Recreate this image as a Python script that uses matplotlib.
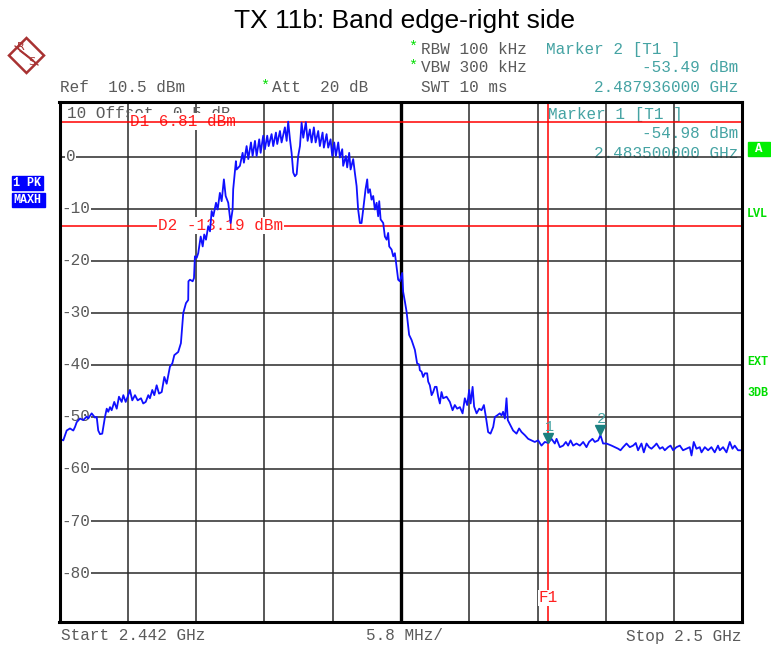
import matplotlib
matplotlib.use('Agg')
import matplotlib.pyplot as plt
from matplotlib.patches import Polygon, Rectangle
from matplotlib.transforms import offset_copy

# ---- trace data: frequency offset from start (MHz) and level (dBm) ----
offset_mhz = [
    0.04, 0.32, 0.61, 0.89, 1.17, 1.32, 1.46, 1.74, 2.02, 2.31, 2.44, 2.73, 3.01, 3.16, 3.29, 3.44, 3.63, 3.86, 4.01, 4.14,
    4.29, 4.43, 4.65, 4.86, 5.05, 5.28, 5.42, 5.62, 5.79, 5.98, 6.18, 6.41, 6.64, 6.92, 7.11, 7.32, 7.54, 7.68, 7.88, 8.05,
    8.25, 8.45, 8.68, 8.90, 9.10, 9.38, 9.58, 9.75, 10.08, 10.31, 10.51, 10.74, 10.93, 10.95, 11.08, 11.31, 11.42, 11.50, 11.65, 11.78,
    11.99, 12.16, 12.29, 12.44, 12.63, 12.78, 12.92, 13.06, 13.29, 13.43, 13.62, 13.77, 13.96, 14.11, 14.33, 14.53, 14.70, 14.75, 14.98, 15.04,
    15.32, 15.55, 15.66, 15.89, 16.03, 16.26, 16.40, 16.60, 16.74, 16.96, 17.08, 17.30, 17.44, 17.64, 17.76, 18.01, 18.15, 18.38, 18.49, 18.72,
    18.86, 19.14, 19.29, 19.42, 19.57, 19.71, 19.85, 19.99, 20.14, 20.27, 20.42, 20.56, 20.70, 20.92, 21.07, 21.26, 21.41, 21.60, 21.75, 21.97,
    22.11, 22.34, 22.45, 22.68, 22.82, 23.02, 23.16, 23.33, 23.47, 23.67, 23.81, 24.01, 24.09, 24.32, 24.43, 24.60, 24.72, 24.94, 25.08, 25.23,
    25.36, 25.51, 25.65, 25.79, 25.99, 26.13, 26.21, 26.36, 26.50, 26.64, 26.78, 26.93, 27.06, 27.15, 27.27, 27.49, 27.63, 27.78, 27.91, 28.00,
    28.20, 28.34, 28.48, 28.62, 28.76, 28.90, 29.10, 29.18, 29.33, 29.47, 29.69, 29.90, 30.18, 30.37, 30.54, 30.60, 30.75, 30.88, 31.03, 31.22,
    31.31, 31.45, 31.60, 31.73, 31.88, 32.02, 32.16, 32.30, 32.44, 32.58, 32.87, 33.15, 33.38, 33.57, 33.77, 34.00, 34.23, 34.42, 34.62, 34.79,
    34.91, 35.08, 35.21, 35.42, 35.64, 35.84, 36.04, 36.21, 36.40, 36.60, 36.83, 36.97, 37.16, 37.39, 37.54, 37.67, 37.82, 37.96, 38.07, 38.30,
    38.52, 38.81, 39.03, 39.24, 39.52, 39.80, 40.08, 40.36, 40.65, 40.93, 41.21, 41.50, 41.78, 42.06, 42.21, 42.49, 42.77, 43.00, 43.19, 43.40,
    43.62, 43.90, 44.19, 44.47, 44.75, 44.97, 45.26, 45.46, 45.74, 45.94, 46.16, 46.45, 46.88, 47.16, 47.44, 47.64, 47.86, 48.15, 48.43, 48.71,
    48.94, 49.13, 49.42, 49.62, 49.85, 50.07, 50.27, 50.55, 50.70, 50.98, 51.21, 51.40, 51.68, 51.89, 52.11, 52.39, 52.68, 52.95, 53.24, 53.52,
    53.67, 53.86, 54.09, 54.37, 54.52, 54.80, 55.08, 55.36, 55.64, 55.92, 56.07, 56.35, 56.64, 56.92, 57.15, 57.34, 57.62, 57.91, 58.00,
]
level_dbm = [
    -54.2, -54.5, -52.6, -52.2, -52.6, -51.9, -51.0, -50.3, -50.6, -49.9, -50.3, -49.3, -50.1, -50.0, -52.6, -53.3, -53.2, -50.0, -48.4, -49.0,
    -48.1, -48.7, -47.1, -48.4, -46.1, -47.1, -45.8, -47.1, -46.1, -44.8, -46.8, -45.8, -46.8, -46.4, -47.4, -47.1, -45.8, -46.4, -44.8, -45.8,
    -43.9, -45.5, -45.2, -42.3, -43.6, -40.3, -39.7, -38.1, -37.5, -35.8, -30.0, -28.1, -27.5, -23.9, -23.6, -23.9, -23.3, -19.1, -19.4, -18.5,
    -15.3, -17.2, -14.9, -15.9, -13.3, -14.3, -10.4, -11.4, -8.8, -10.1, -6.9, -8.5, -4.3, -7.5, -8.8, -12.7, -10.1, -6.2, -0.8, -2.4,
    -1.7, 0.8, -1.1, 2.1, -0.4, 2.8, 0.2, 3.1, 0.2, 3.4, 0.8, 4.1, 1.5, 4.1, 2.1, 4.4, 2.1, 4.7, 2.5, 5.0,
    2.8, 5.7, 3.1, 6.81, 3.4, 0.8, -3.0, -3.7, -3.3, 0.2, 2.1, 6.6, 3.7, 6.7, 3.1, 5.3, 2.8, 5.7, 2.8, 5.0,
    2.1, 4.7, 1.8, 4.4, 1.8, 3.4, 0.2, 2.8, 0.2, 2.8, -0.1, 1.5, -1.7, 0.2, -2.0, 0.8, -2.4, -0.4, -3.0, -5.6,
    -10.1, -12.7, -12.7, -10.1, -6.2, -4.3, -6.9, -6.2, -8.2, -7.5, -10.1, -8.8, -11.4, -8.5, -12.0, -12.7, -15.3, -15.9, -14.6, -17.2,
    -17.8, -19.1, -18.5, -21.0, -23.6, -23.9, -22.3, -25.9, -27.8, -29.7, -34.2, -35.2, -37.1, -39.7, -39.9, -41.0, -41.3, -42.3, -41.6, -41.6,
    -43.2, -43.9, -45.8, -45.2, -44.2, -44.2, -46.1, -47.4, -45.2, -46.4, -46.1, -47.1, -48.7, -47.7, -48.4, -48.1, -49.3, -46.4, -47.7, -44.8,
    -47.4, -44.2, -48.0, -49.3, -48.4, -48.7, -47.7, -50.0, -52.9, -53.2, -51.9, -50.0, -49.7, -49.3, -49.7, -49.0, -50.3, -46.4, -50.6, -51.6,
    -52.6, -53.2, -52.2, -52.9, -53.5, -54.2, -54.5, -54.8, -54.5, -55.5, -54.8, -54.98, -54.2, -55.1, -54.2, -55.8, -55.5, -54.8, -55.5, -54.5,
    -55.5, -55.1, -55.5, -54.8, -55.8, -54.8, -54.2, -54.8, -54.5, -53.49, -55.1, -55.1, -55.5, -55.8, -56.1, -56.4, -55.8, -55.1, -55.8, -55.5,
    -55.0, -56.4, -55.1, -56.8, -55.1, -55.8, -56.1, -55.5, -55.1, -56.1, -55.8, -56.4, -55.8, -55.5, -56.4, -55.8, -55.5, -56.4, -56.1, -55.8,
    -57.4, -54.8, -56.1, -55.8, -56.8, -55.8, -56.4, -55.8, -56.8, -55.5, -56.4, -55.8, -56.8, -54.8, -56.1, -55.5, -56.4, -56.4, -56.2,
]

start_mhz = 2442.0
span_mhz = 58.0
div_mhz = 5.8
ref_dbm = 10.5
ytick_vals = [0, -10, -20, -30, -40, -50, -60, -70, -80]

d1_dbm = 6.81
d2_dbm = -13.19
f1_mhz = 2483.5
marker_mhz = [2483.5, 2487.936]
marker_dbm = [-54.98, -53.49]
marker_names = ['1', '2']

freq_mhz = [start_mhz + o for o in offset_mhz]

# ---- colours / fonts ----
MONO = 'Liberation Mono'
GRAY = '#5a5a5a'
TEAL = '#45a3a3'
RED = '#ff2020'
GREEN = '#00dd00'
BLUE = '#0000ff'

W, H = 771, 648
fig = plt.figure(figsize=(W / 100, H / 100), dpi=100)
fig.patch.set_facecolor('white')


def fx(x):
    return x / W


def fy(y):
    return 1 - y / H


def ftext(x, y, s, color=GRAY, size=11.5, **kw):
    fig.text(fx(x), fy(y), s, color=color, family=MONO, fontsize=size, va='center', **kw)


ax = fig.add_axes([fx(59.5), fy(622.4), 683 / W, 520 / H])
ax.set_xlim(start_mhz, start_mhz + span_mhz)
ax.set_ylim(ref_dbm - 100, ref_dbm)

# graticule
gx = [start_mhz + i * div_mhz for i in range(1, 10)]
ax.set_xticks(gx)
ax.set_yticks(ytick_vals)
ax.tick_params(length=0, labelbottom=False, labelleft=False)
ax.grid(True, color='#2a2a2a', lw=1.1, zorder=1)
ax.set_axisbelow(True)
ax.axvline(start_mhz + 5 * div_mhz, color='black', lw=2.4, zorder=1.1)
for s in ax.spines.values():
    s.set_linewidth(2.2)
    s.set_zorder(5)

# level labels inside the graticule
for v in ytick_vals:
    xo = 0.55 if v == 0 else 0.2
    ax.text(start_mhz + xo, v, str(v), color=GRAY, family=MONO, fontsize=11.5,
            ha='left', va='center', zorder=1.3,
            bbox=dict(fc='white', ec='none', pad=0.3))
ax.text(start_mhz + 0.64, 8.44, '10 Offset  0.5 dB', color=GRAY, family=MONO,
        fontsize=11.5, ha='left', va='center', zorder=1.5)

# display lines
ax.text(start_mhz + 5.99, d1_dbm, 'D1 6.81 dBm', color=RED, family=MONO, fontsize=11.5,
        ha='left', va='center', zorder=2, bbox=dict(fc='white', ec='none', pad=0.5))
ax.axhline(d1_dbm, color='#ff0000', lw=1.1, zorder=2.5)
ax.axhline(d2_dbm, color='#ff0000', lw=1.1, zorder=2)
ax.text(start_mhz + 8.36, d2_dbm, 'D2 -13.19 dBm', color=RED, family=MONO, fontsize=11.5,
        ha='left', va='center', zorder=2.6, bbox=dict(fc='white', ec='none', pad=0.5))
ax.axvline(f1_mhz, color='#ff0000', lw=1.1, zorder=2.2)
ax.text(f1_mhz, -84.8, 'F1', color=RED, family=MONO, fontsize=11.5, ha='center',
        va='center', zorder=2.4, bbox=dict(fc='white', ec='none', pad=0.2))

# trace
ax.plot(freq_mhz, level_dbm, color='#1010ff', lw=1.3, zorder=3)

# markers
tri = offset_copy(ax.transData, fig=fig, x=0, y=5, units='dots')
ax.plot(marker_mhz, marker_dbm, 'v', ms=7, color='#1a8080', transform=tri, zorder=4)
for mx, my, name in zip(marker_mhz, marker_dbm, marker_names):
    ax.annotate(name, (mx, my), xytext=(1, 16), textcoords='offset pixels', ha='center',
                va='center', color=TEAL, family=MONO, fontsize=11, zorder=4)

# marker 1 info inside the screen, drawn under the graticule
for (x, y, s, ha) in [(547.7, 115, 'Marker 1 [T1 ]', 'left'),
                      (738, 134, '-54.98 dBm', 'right'),
                      (738, 153, '2.483500000 GHz', 'right')]:
    ax.text(fx(x), fy(y), s, transform=fig.transFigure, color=TEAL, family=MONO,
            fontsize=11.5, ha=ha, va='center', zorder=0.5)

# ---- header ----
fig.text(fx(405), fy(21), 'TX 11b: Band edge-right side', ha='center', va='center',
         fontsize=19, family='Liberation Sans', color='black')
ftext(413, 47, '*', color=GREEN, size=11, ha='center')
ftext(421, 49.5, 'RBW 100 kHz')
ftext(546.5, 49.5, 'Marker 2 [T1 ]', color=TEAL)
ftext(413, 66, '*', color=GREEN, size=11, ha='center')
ftext(421, 68, 'VBW 300 kHz')
ftext(738, 68, '-53.49 dBm', color=TEAL, ha='right')
ftext(421, 88, 'SWT 10 ms')
ftext(738, 88, '2.487936000 GHz', color=TEAL, ha='right')
ftext(59.5, 88, 'Ref  10.5 dBm')
ftext(265, 86, '*', color=GREEN, size=11, ha='center')
ftext(272.5, 88, 'Att  20 dB')

# bottom line
ftext(61, 636, 'Start 2.442 GHz')
ftext(404, 636, '5.8 MHz/', ha='center')
ftext(742, 636, 'Stop 2.5 GHz', ha='right')

# side annotations
for (x0, y0, w, h, s) in [(12, 176, 31, 14, '1 PK'), (12, 193, 33, 14, 'MAXH')]:
    fig.patches.append(Rectangle((fx(x0), fy(y0 + h)), w / W, h / H, transform=fig.transFigure,
                                 color=BLUE, zorder=1))
    fig.text(fx(x0 + 1), fy(y0 + h / 2), s, color='white', family=MONO, fontsize=8.5,
             fontweight='bold', va='center', ha='left', zorder=2)
fig.patches.append(Rectangle((fx(748), fy(156)), 22 / W, 14 / H, transform=fig.transFigure,
                             color='#00ee00', zorder=1))
fig.text(fx(759), fy(149), 'A', color='white', family=MONO, fontsize=9, fontweight='bold',
         ha='center', va='center', zorder=2)
for y, s in [(214, 'LVL'), (362, 'EXT'), (393, '3DB')]:
    ftext(747, y, s, color=GREEN, size=8.5, fontweight='bold')

# R&S logo
LOGO = '#a83232'
cx, cy, r = 26.5, 55.5, 17.5
fig.patches.append(Polygon([(fx(cx), fy(cy - r)), (fx(cx + r), fy(cy)), (fx(cx), fy(cy + r)),
                            (fx(cx - r), fy(cy))], closed=True, fill=False, ec=LOGO, lw=1.8,
                           transform=fig.transFigure))
for d in (-2.5, 0, 2.5):
    fig.lines.append(plt.Line2D([fx(cx - 9 + d), fx(cx + 9 + d)], [fy(cy - 7 + d), fy(cy + 7 + d)],
                                color=LOGO, lw=0.9, transform=fig.transFigure))
fig.text(fx(21), fy(47), 'R', color=LOGO, fontsize=8, family='DejaVu Sans', ha='center', va='center')
fig.text(fx(32), fy(62), 'S', color=LOGO, fontsize=8, family='DejaVu Sans', ha='center', va='center')

fig.savefig('out.png', dpi=100)
